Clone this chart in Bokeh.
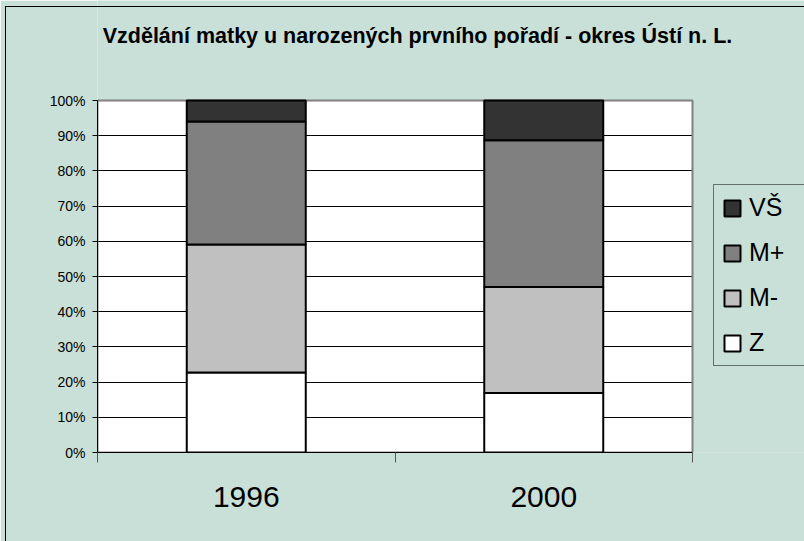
from bokeh.plotting import figure
from bokeh.models import (ColumnDataSource, Legend, LegendItem, Label, FixedTicker,
                          PrintfTickFormatter, Range1d, InlineStyleSheet)
from bokeh.embed import file_html
from bokeh.resources import INLINE

# ---- data ----
years = ["1996", "2000"]
z = [22.7, 16.9]
m_minus = [36.4, 30.1]
m_plus = [34.9, 41.7]
vs = [6.0, 11.3]
series_keys = ["z", "m_minus", "m_plus", "vs"]
series_labels = ["Z", "M-", "M+", "VŠ"]
series_colors = ["#ffffff", "#c0c0c0", "#808080", "#333333"]
y_ticks = list(range(0, 101, 10))
title_text = "Vzdělání matky u narozených prvního pořadí - okres Ústí n. L."

x_pos = [i + 0.5 for i in range(len(years))]
boundaries = list(range(len(years) + 1))
source = ColumnDataSource(dict(x=x_pos, z=z, m_minus=m_minus, m_plus=m_plus, vs=vs))

BG = "#c9e0d8"
FONT = "Liberation Sans"
W, H = 804, 541
# plot-area box in page pixels
PL, PT, PR, PB = 97, 100, 692, 452
NX = len(years)
YMAX = y_ticks[-1]
# the frame spans from PL to the right edge and from the top edge to PB,
# so that title and legend (outside the plot area) are not clipped
px_per_x = (PR - PL) / NX
px_per_y = (PB - PT) / YMAX
x_end = (W - PL) / px_per_x
y_end = PB / px_per_y

p = figure(width=W, height=H, x_range=Range1d(0, x_end), y_range=Range1d(0, y_end),
           output_backend="svg", toolbar_location=None,
           min_border_left=PL, min_border_top=0, min_border_right=0,
           min_border_bottom=H - PB)
p.border_fill_color = BG
p.background_fill_color = BG
p.outline_line_color = None

# plot area (white) beneath the grid
p.quad(left=[0], right=[NX], bottom=[0], top=[YMAX], fill_color="white",
       line_color=None, level="image")
# cover grid lines beyond the plot area
p.quad(left=[NX], right=[x_end], bottom=[-1], top=[YMAX + 1], fill_color=BG,
       line_color=None)
# plot area border (grey)
p.quad(left=[0], right=[NX], bottom=[0], top=[YMAX], fill_color=None,
       line_color="#808080", line_width=2)

rs = p.vbar_stack(series_keys, x="x", width=0.4, source=source,
                  fill_color=series_colors, line_color="black", line_width=2)

# y axis
p.yaxis.bounds = (0, YMAX)
p.yaxis.ticker = FixedTicker(ticks=y_ticks)
p.yaxis.formatter = PrintfTickFormatter(format="%d%%")
p.yaxis.major_tick_out = 5
p.yaxis.major_tick_in = 0
p.yaxis.minor_tick_out = 0
p.yaxis.minor_tick_in = 0
p.yaxis.axis_line_color = "black"
p.yaxis.major_tick_line_color = "black"
p.yaxis.major_label_text_font = FONT
p.yaxis.major_label_text_font_size = "14px"
p.yaxis.major_label_text_color = "black"
p.yaxis.major_label_standoff = 7

# x axis
p.xaxis.bounds = (0, NX)
p.xaxis.ticker = FixedTicker(ticks=x_pos, minor_ticks=boundaries)
p.xaxis.major_label_overrides = {x: y for x, y in zip(x_pos, years)}
p.xaxis.major_tick_out = 0
p.xaxis.major_tick_in = 0
p.xaxis.minor_tick_out = 10
p.xaxis.minor_tick_in = 0
p.xaxis.minor_tick_line_color = "#555555"
p.xaxis.axis_line_color = "black"
p.xaxis.axis_line_width = 1
p.xaxis.major_label_text_font = FONT
p.xaxis.major_label_text_font_size = "30px"
p.xaxis.major_label_text_color = "black"
p.xaxis.major_label_standoff = 24

p.xgrid.visible = False
p.ygrid.ticker = FixedTicker(ticks=y_ticks)
p.ygrid.grid_line_color = "black"
p.ygrid.grid_line_width = 1

# title
p.add_layout(Label(x=417 - PL, y=PB - 35, x_units="screen", y_units="screen",
                   text=title_text, text_align="center", text_baseline="middle",
                   text_font=FONT, text_font_style="bold", text_font_size="21.5px",
                   text_color="black"))

# legend (top item first)
items = [LegendItem(label=lab, renderers=[r]) for lab, r in zip(series_labels, rs)][::-1]
legend = Legend(items=items, location=(713 - PL, PB - 366))
legend.glyph_width = 20
legend.glyph_height = 20
legend.label_text_font = FONT
legend.label_text_font_size = "25px"
legend.label_text_color = "black"
legend.label_height = 25
legend.label_standoff = 7
legend.label_width = 50
legend.spacing = 16
legend.padding = 8
legend.margin = 0
legend.border_line_color = "black"
legend.border_line_width = 1
legend.background_fill_color = BG
legend.background_fill_alpha = 1
p.add_layout(legend, "center")

# outer chart border: only its top and left edges are inside the picture
p.stylesheets = [InlineStyleSheet(css=(
    ":host::after { content: ''; position: absolute; left: 5px; top: 6px;"
    " width: 2000px; height: 2000px; border-left: 1.5px solid black;"
    " border-top: 1.5px solid black; pointer-events: none; z-index: 10; }"))]

open("out.html", "w").write(file_html(p, INLINE))
